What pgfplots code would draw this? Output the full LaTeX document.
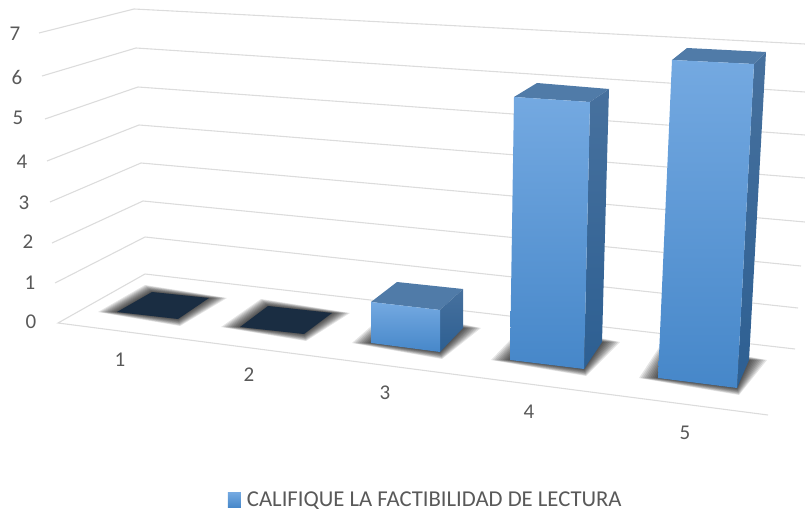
\documentclass[border=0pt]{standalone}
\usepackage{fontspec}
\setmainfont{Carlito}
\usepackage{pgfplots}
\pgfplotsset{compat=1.18}

\definecolor{gridc}{HTML}{DCDCDC}
\definecolor{labelc}{HTML}{595959}
\definecolor{frontT}{HTML}{74A9E1}
\definecolor{frontB}{HTML}{4687C9}
\definecolor{sideT}{HTML}{47719E}
\definecolor{sideB}{HTML}{2D5F92}
\definecolor{topc}{HTML}{507BA8}
\definecolor{zeroc}{HTML}{1A2D42}

% the chart is a 3D perspective view, so the axis runs in picture pixels
% values read off: 1->0, 2->0, 3->1, 4->5, 5->6

% soft shadow on the floor: left, back, right, front corner
\newcommand\floorshadow[9][1]{%
  \pgfplotsinvokeforeach{1,0.9,0.8,0.7,0.6,0.5,0.4,0.3,0.2,0.1,0}{%
    \addplot[draw=none, fill=black, fill opacity=0.10, forget plot]
      coordinates {({#2-19*##1},#3) ({#4-7*##1},{#5-7*#1*##1}) ({#6+18*##1},#7) ({#8+2*##1},{#9+7*##1})} --cycle;
  }%
}
% one box: front face corners tl tr br bl, then back top left, back top right, back bottom right
\newcommand\boxbar[7]{%
  \addplot[draw=none, fill=topc, forget plot] coordinates {#1 #5 #6 #2} --cycle;
  \addplot[draw=none, top color=sideT, bottom color=sideB, forget plot] coordinates {#2 #6 #7 #3} --cycle;
  \addplot[draw=none, top color=frontT, bottom color=frontB, forget plot] coordinates {#1 #2 #3 #4} --cycle;
}

\begin{document}
\begin{tikzpicture}
\begin{axis}[
    scale only axis,
    width=805pt, height=513pt,
    xmin=0, xmax=805, ymin=0, ymax=513,
    y dir=reverse,
    hide axis,
    no markers,
    font=\fontsize{21}{23}\selectfont,
    legend style={draw=none, fill=none, at={(0.2832,0.0253)}, anchor=west,
      inner sep=0pt, outer sep=0pt, text=labelc,
      font=\fontsize{22.7}{24}\selectfont,
      nodes={inner sep=2pt}},
    legend cell align=left,
]
% keeps the whole picture area in the bounding box
\addplot[draw=none, forget plot] coordinates {(0,0) (805,0) (805,513) (0,513)};

% walls and floor
\pgfplotsset{every axis plot/.append style={line width=1.1pt}}
\addplot[gridc, forget plot] coordinates {(39,33) (134,9) (805,44)};
\addplot[gridc, forget plot] coordinates {(42,76) (136,48) (805,92)};
\addplot[gridc, forget plot] coordinates {(45,119) (138,87) (805,135)};
\addplot[gridc, forget plot] coordinates {(47,161) (139,125) (805,178)};
\addplot[gridc, forget plot] coordinates {(50,202) (141,163) (805,222)};
\addplot[gridc, forget plot] coordinates {(52,243) (143,201) (801,266)};
\addplot[gridc, forget plot] coordinates {(55,283) (145,237) (798,308)};
\addplot[gridc, forget plot] coordinates {(768,415) (58,323) (145,274) (795,349)};

% shadows
\floorshadow{117}{312}{152}{292}{209}{298}{178}{319}
\floorshadow{240}{327}{268}{306}{332}{313}{304}{334}
\floorshadow[1.5]{371}{343}{397}{320}{463}{328}{440}{352}
\floorshadow[1.5]{510}{360}{533}{334}{602}{342}{584}{369}
\floorshadow[1.5]{658}{378}{670}{352}{749}{360}{737}{388}

% categories 1 and 2 are zero, only a flat patch
\addplot[draw=none, fill=zeroc, forget plot] coordinates {(117,312) (152,292) (209,298) (178,319)} --cycle;
\addplot[draw=none, fill=zeroc, forget plot] coordinates {(240,327) (268,306) (332,313) (304,334)} --cycle;

% categories 3, 4, 5
\boxbar{(371,302)}{(440,310)}{(440,352)}{(371,343)}{(397,282)}{(463,289)}{(463,328)}
\boxbar{(514,97)}{(590,102)}{(584,369)}{(510,360)}{(537,83)}{(609,89)}{(602,342)}
\boxbar{(672,60)}{(754,64)}{(737,388)}{(658,378)}{(687,48)}{(766,52)}{(749,360)}

% tick labels follow the perspective
\addplot[draw=none, forget plot, nodes near coords, point meta=explicit symbolic,
    every node near coord/.append style={anchor=center, inner sep=0pt, text=labelc}]
  coordinates {(15,34)[7] (17,77)[6] (18,118)[5] (22,162)[4] (24,203)[3] (28,242)[2] (30,283)[1] (31,322)[0]
    (120,360)[1] (249,375)[2] (385,393)[3] (529,412)[4] (685,433)[5]};

\addlegendimage{legend image code/.code={
    \path[draw=none] (0pt,0pt) rectangle (17pt,0pt);
    \path[draw=none, top color=frontT, bottom color=frontB] (0pt,-7.5pt) rectangle (13pt,7.5pt);
}}
\addlegendentry{CALIFIQUE LA FACTIBILIDAD DE LECTURA}
\end{axis}
\end{tikzpicture}
\end{document}
